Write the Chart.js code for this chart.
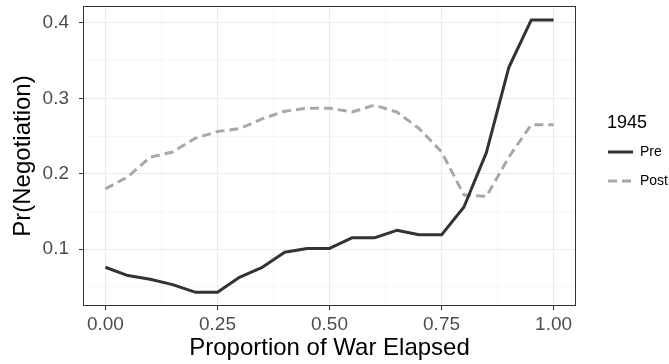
<!DOCTYPE html>
<html>
<head>
<meta charset="utf-8">
<script src="https://cdn.jsdelivr.net/npm/chart.js@4/dist/chart.umd.min.js"></script>
<style>
  html, body { margin: 0; padding: 0; background: #ffffff; }
  canvas { display: block; }
</style>
</head>
<body>
<canvas id="chart" width="669" height="364"></canvas>
<script>
// proportion of war elapsed
const xValues = [0.00, 0.05, 0.10, 0.15, 0.20, 0.25, 0.30, 0.35, 0.40, 0.45, 0.50,
                 0.55, 0.60, 0.65, 0.70, 0.75, 0.80, 0.85, 0.90, 0.95, 1.00];
const preValues = [0.076, 0.065, 0.060, 0.053, 0.043, 0.043, 0.063, 0.076, 0.096, 0.101, 0.101,
                   0.115, 0.115, 0.125, 0.119, 0.119, 0.156, 0.228, 0.341, 0.404, 0.404];
const postValues = [0.180, 0.196, 0.222, 0.229, 0.247, 0.256, 0.260, 0.273, 0.283, 0.287, 0.287,
                    0.282, 0.291, 0.282, 0.260, 0.229, 0.172, 0.170, 0.222, 0.265, 0.265];
const seriesLabels = ["Pre", "Post"];
const legendTitle = "1945";
const xTicks = [0, 0.25, 0.5, 0.75, 1];
const xMinor = [0.125, 0.375, 0.625, 0.875];
const yTicks = [0.1, 0.2, 0.3, 0.4];
const yMinor = [0.05, 0.15, 0.25, 0.35];

const FONT = "'Liberation Sans', Arial, sans-serif";
const GRID = "#EBEBEB";

function toPoints(ys) {
  return xValues.map((x, i) => ({ x: x, y: ys[i] }));
}

function setTicks(major, minor) {
  return (scale) => {
    scale.ticks = major.concat(minor).sort((a, b) => a - b).map(v => ({ value: v }));
  };
}

function isMajor(list, v) {
  return list.some(t => Math.abs(t - v) < 1e-9);
}

const panelBorder = {
  id: "panelBorder",
  afterDraw(chart) {
    const { ctx, chartArea: a } = chart;
    ctx.save();
    ctx.strokeStyle = "#333333";
    ctx.lineWidth = 1;
    ctx.strokeRect(a.left + 0.5, a.top + 0.5, a.right - a.left - 1, a.bottom - a.top - 1);
    ctx.restore();
  }
};

const sideLegend = {
  id: "sideLegend",
  afterDraw(chart) {
    const ctx = chart.ctx;
    const x0 = 607;
    ctx.save();
    ctx.fillStyle = "#000000";
    ctx.font = "18px " + FONT;
    ctx.textBaseline = "middle";
    ctx.fillText(legendTitle, x0, 123);
    chart.data.datasets.forEach((ds, i) => {
      const y = 152 + i * 29;
      ctx.strokeStyle = ds.borderColor;
      ctx.lineWidth = ds.borderWidth;
      ctx.setLineDash(ds.borderDash || []);
      ctx.beginPath();
      ctx.moveTo(x0 + 1, y);
      ctx.lineTo(x0 + 26, y);
      ctx.stroke();
      ctx.setLineDash([]);
      ctx.fillStyle = "#000000";
      ctx.font = "14px " + FONT;
      ctx.fillText(ds.label, x0 + 33, y);
    });
    ctx.restore();
  }
};

new Chart(document.getElementById("chart"), {
  type: "line",
  data: {
    datasets: [
      {
        label: seriesLabels[0],
        data: toPoints(preValues),
        borderColor: "#333333",
        borderWidth: 3,
        pointRadius: 0,
        tension: 0,
        fill: false,
        borderJoinStyle: "round"
      },
      {
        label: seriesLabels[1],
        data: toPoints(postValues),
        borderColor: "#A8A8A8",
        borderWidth: 3,
        borderDash: [9, 5],
        pointRadius: 0,
        tension: 0,
        fill: false,
        borderJoinStyle: "round"
      }
    ]
  },
  options: {
    responsive: false,
    animation: false,
    layout: { padding: { top: 6, right: 93, left: 0, bottom: 0 } },
    plugins: {
      legend: { display: false },
      tooltip: { enabled: false }
    },
    scales: {
      x: {
        type: "linear",
        min: -0.05,
        max: 1.05,
        afterBuildTicks: setTicks(xTicks, xMinor),
        afterFit: (scale) => {
          scale.height = 58;
          scale.paddingLeft = 0;
          scale.paddingRight = 0;
        },
        border: { display: false },
        grid: {
          color: GRID,
          lineWidth: (c) => isMajor(xTicks, c.tick.value) ? 1.1 : 0.5,
          tickLength: 4,
          tickColor: (c) => isMajor(xTicks, c.tick.value) ? "#333333" : "rgba(0,0,0,0)",
          tickWidth: 1
        },
        ticks: {
          autoSkip: false,
          maxRotation: 0,
          padding: 3,
          color: "#4D4D4D",
          font: { family: FONT, size: 19 },
          callback: (v) => isMajor(xTicks, v) ? v.toFixed(2) : ""
        },
        title: {
          display: true,
          text: "Proportion of War Elapsed",
          color: "#000000",
          font: { family: FONT, size: 24 },
          padding: { top: 0, bottom: 1 }
        }
      },
      y: {
        type: "linear",
        min: 0.0246,
        max: 0.4226,
        afterBuildTicks: setTicks(yTicks, yMinor),
        afterFit: (scale) => {
          scale.width = 83;
          scale.paddingTop = 0;
          scale.paddingBottom = 0;
        },
        border: { display: false },
        grid: {
          color: GRID,
          lineWidth: (c) => isMajor(yTicks, c.tick.value) ? 1.1 : 0.5,
          tickLength: 4,
          tickColor: (c) => isMajor(yTicks, c.tick.value) ? "#333333" : "rgba(0,0,0,0)",
          tickWidth: 1
        },
        ticks: {
          autoSkip: false,
          padding: 10,
          color: "#4D4D4D",
          font: { family: FONT, size: 19 },
          callback: (v) => isMajor(yTicks, v) ? v.toFixed(1) : ""
        },
        title: {
          display: true,
          text: "Pr(Negotiation)",
          color: "#000000",
          font: { family: FONT, size: 24 },
          padding: { top: 9, bottom: 0 }
        }
      }
    }
  },
  plugins: [panelBorder, sideLegend]
});
</script>
</body>
</html>
